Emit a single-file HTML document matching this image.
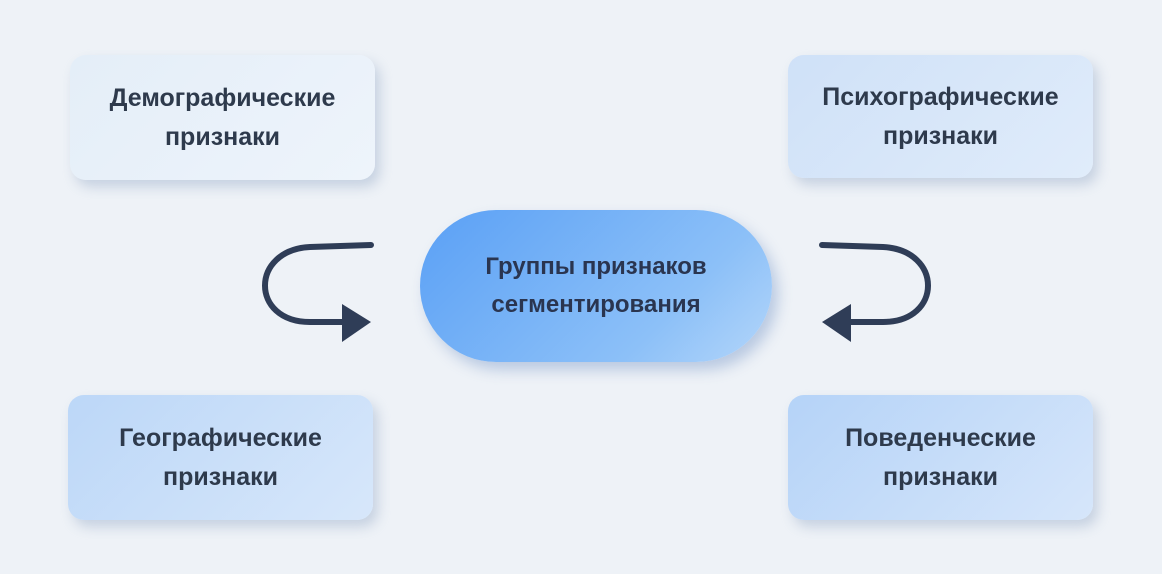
<!DOCTYPE html>
<html><head><meta charset="utf-8"><style>
body{margin:0;width:1162px;height:574px;background:#eef2f7;position:relative;overflow:hidden;font-family:"Liberation Sans",sans-serif;}
.b{position:absolute;border-radius:16px;display:flex;align-items:center;justify-content:center;text-align:center;font-weight:bold;font-size:25px;line-height:39px;color:#2e3a4c;box-shadow:5px 7px 12px rgba(150,170,200,0.45);}
</style></head><body>
<div class="b" style="left:70px;top:55px;width:305px;height:125px;background:linear-gradient(135deg,#e4eef8,#eef4fb);">Демографические<br>признаки</div>
<div class="b" style="left:788px;top:55px;width:305px;height:123px;background:linear-gradient(135deg,#cfe1f8,#e0ecfa);">Психографические<br>признаки</div>
<div class="b" style="left:68px;top:395px;width:305px;height:125px;background:linear-gradient(135deg,#bcd7f8,#d7e7fa);">Географические<br>признаки</div>
<div class="b" style="left:788px;top:395px;width:305px;height:125px;background:linear-gradient(135deg,#b5d3f8,#d6e6fa);">Поведенческие<br>признаки</div>
<div class="b" style="left:420px;top:210px;width:352px;height:152px;border-radius:76px;background:linear-gradient(135deg,#5aa0f5,#8cc0f8 70%,#b4d6fa);font-size:24px;line-height:38px;color:#2a3550;box-shadow:6px 8px 14px rgba(120,150,200,0.45);">Группы признаков<br>сегментирования</div>
<svg width="1162" height="574" style="position:absolute;left:0;top:0">
<g fill="none" stroke="#2f3d57" stroke-width="6" stroke-linecap="round">
<path d="M371 245 L310 247 C250 250 250 322 310 322 L345 322"/>
<path d="M822 245 L883 247 C943 250 943 322 883 322 L848 322"/>
</g>
<polygon points="342,304 371,322 342,342" fill="#2f3d57"/>
<polygon points="851,304 822,322 851,342" fill="#2f3d57"/>
</svg>
</body></html>
